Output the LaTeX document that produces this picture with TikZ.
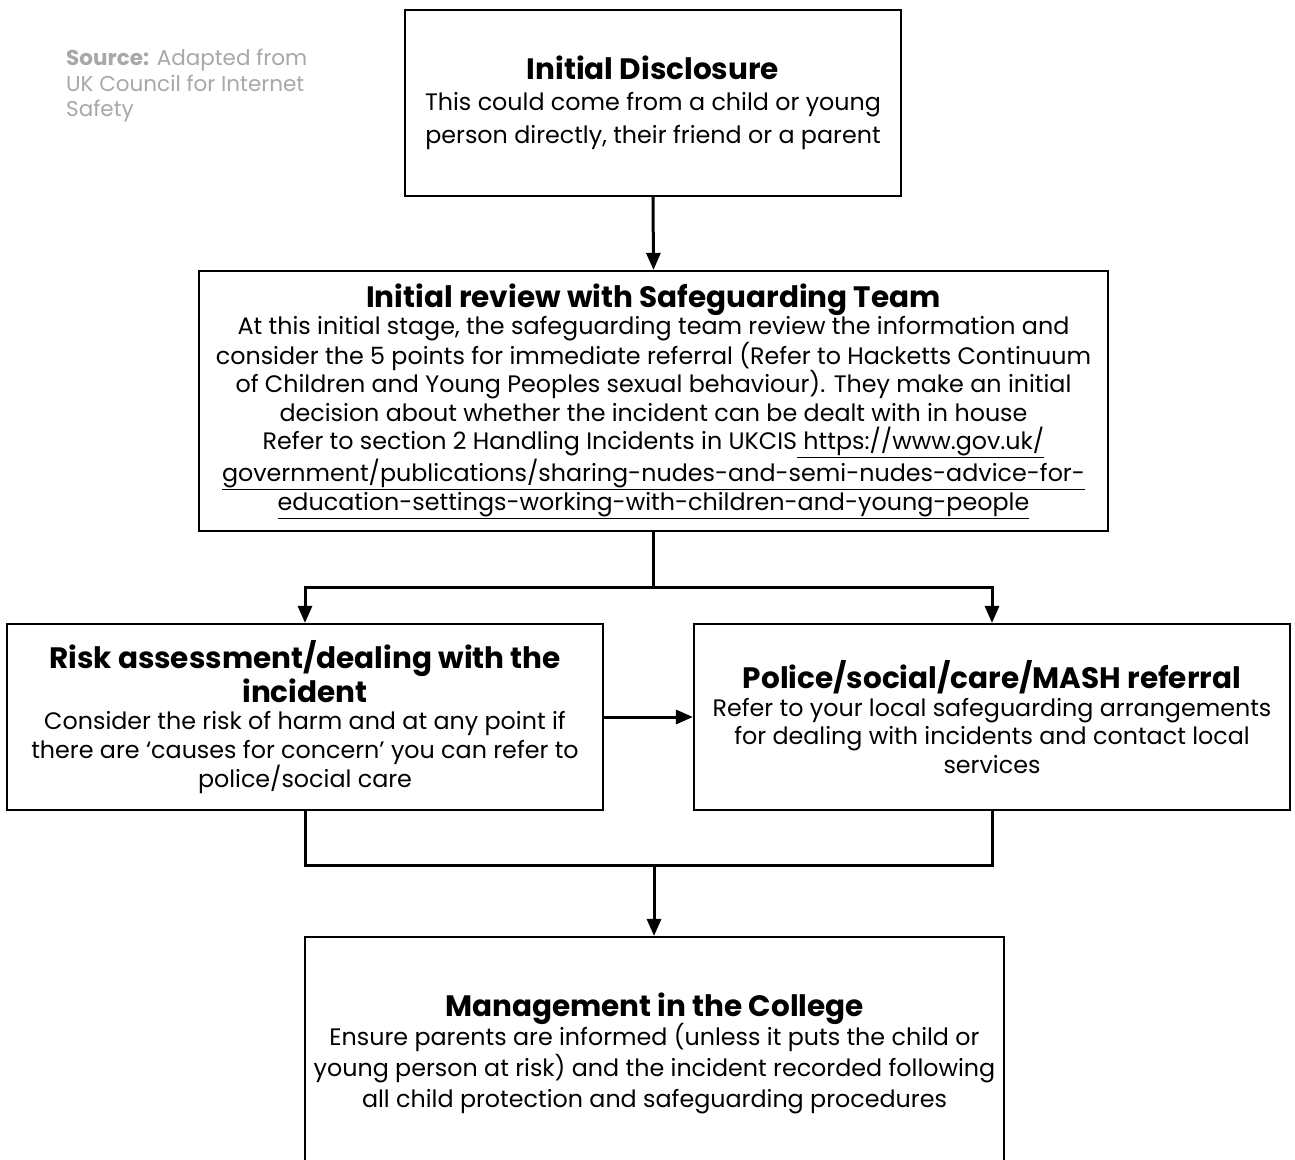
\documentclass[tikz,border=0pt]{standalone}
\usepackage{fontspec}
\setmainfont{Poppins}
\usetikzlibrary{arrows.meta}
\definecolor{srcgray}{HTML}{A8A8A8}
\tikzset{
  box/.style={draw=black, line width=2.2pt, inner sep=0pt, align=center, text=black},
  conn/.style={line width=3pt, -{Triangle[length=17pt,width=14pt]}},
  plain/.style={line width=3pt},
}
\newcommand{\ttl}[1]{{\fontsize{29.5}{33}\selectfont\bfseries #1}}
\begin{document}
\begin{tikzpicture}[x=1pt,y=-1pt]
\useasboundingbox (0,0) rectangle (1295,1159);
\fill[white] (0,0) rectangle (1295,1159);
\clip (0,0) rectangle (1295,1159);
\node[anchor=north west, align=left, text=srcgray, font=\fontsize{21.5}{25.5}\selectfont, inner sep=0pt] (src) at (66,49)
  {\textbf{Source:} Adapted from\\UK Council for Internet\\Safety};

\node[box, minimum width=496pt, minimum height=186pt, font=\fontsize{23.8}{33}\selectfont] (disc) at (653,103)
  {\ttl{Initial Disclosure}\\[-2pt]This could come from a child or young\\person directly, their friend or a parent};

\node[box, minimum width=909pt, minimum height=260pt, font=\fontsize{23.8}{28.5}\selectfont] (rev) at (653.5,401)
  {\ttl{Initial review with Safeguarding Team}\\[-1pt]
  At this initial stage, the safeguarding team review the information and\\
  consider the 5 points for immediate referral (Refer to Hacketts Continuum\\
  of Children and Young Peoples sexual behaviour). They make an initial\\
  decision about whether the incident can be dealt with in house\\
  Refer to section 2 Handling Incidents in UKCIS\underline{ https://www.gov.uk/}\\
  \underline{government/publications/sharing-nudes-and-semi-nudes-advice-for-}\\
  \underline{education-settings-working-with-children-and-young-people}};

\node[box, minimum width=596pt, minimum height=186pt, font=\fontsize{23.8}{28.5}\selectfont] (risk) at (305,717)
  {\ttl{Risk assessment/dealing with the}\\[1pt]\ttl{incident}\\[-1pt]
  Consider the risk of harm and at any point if\\
  there are ‘causes for concern’ you can refer to\\
  police/social care};

\node[box, minimum width=596pt, minimum height=186pt, font=\fontsize{23.8}{28.5}\selectfont] (pol) at (992,717)
  {\ttl{Police/social/care/MASH referral}\\[-1pt]
  Refer to your local safeguarding arrangements\\
  for dealing with incidents and contact local\\
  services};

\node[box, minimum width=699pt, minimum height=232pt, font=\fontsize{23.8}{31}\selectfont] (mgmt) at (654.5,1053)
  {\ttl{Management in the College}\\[-2pt]
  Ensure parents are informed (unless it puts the child or\\
  young person at risk) and the incident recorded following\\
  all child protection and safeguarding procedures};

\coordinate (split) at (653,587);
\coordinate (join) at (654,865);

\draw[conn] (disc.south) -- (rev.north);
\draw[plain] (rev.south -| split) -- (split);
\draw[conn, line cap=rect] (split) -| (risk.north);
\draw[conn, line cap=rect] (split) -| (pol.north);
\draw[conn] (risk.east) -- (pol.west);
\draw[plain] (risk.south) |- (join);
\draw[plain] (pol.south) |- (join);
\draw[conn] (join) -- (mgmt.north -| join);
\end{tikzpicture}
\end{document}
